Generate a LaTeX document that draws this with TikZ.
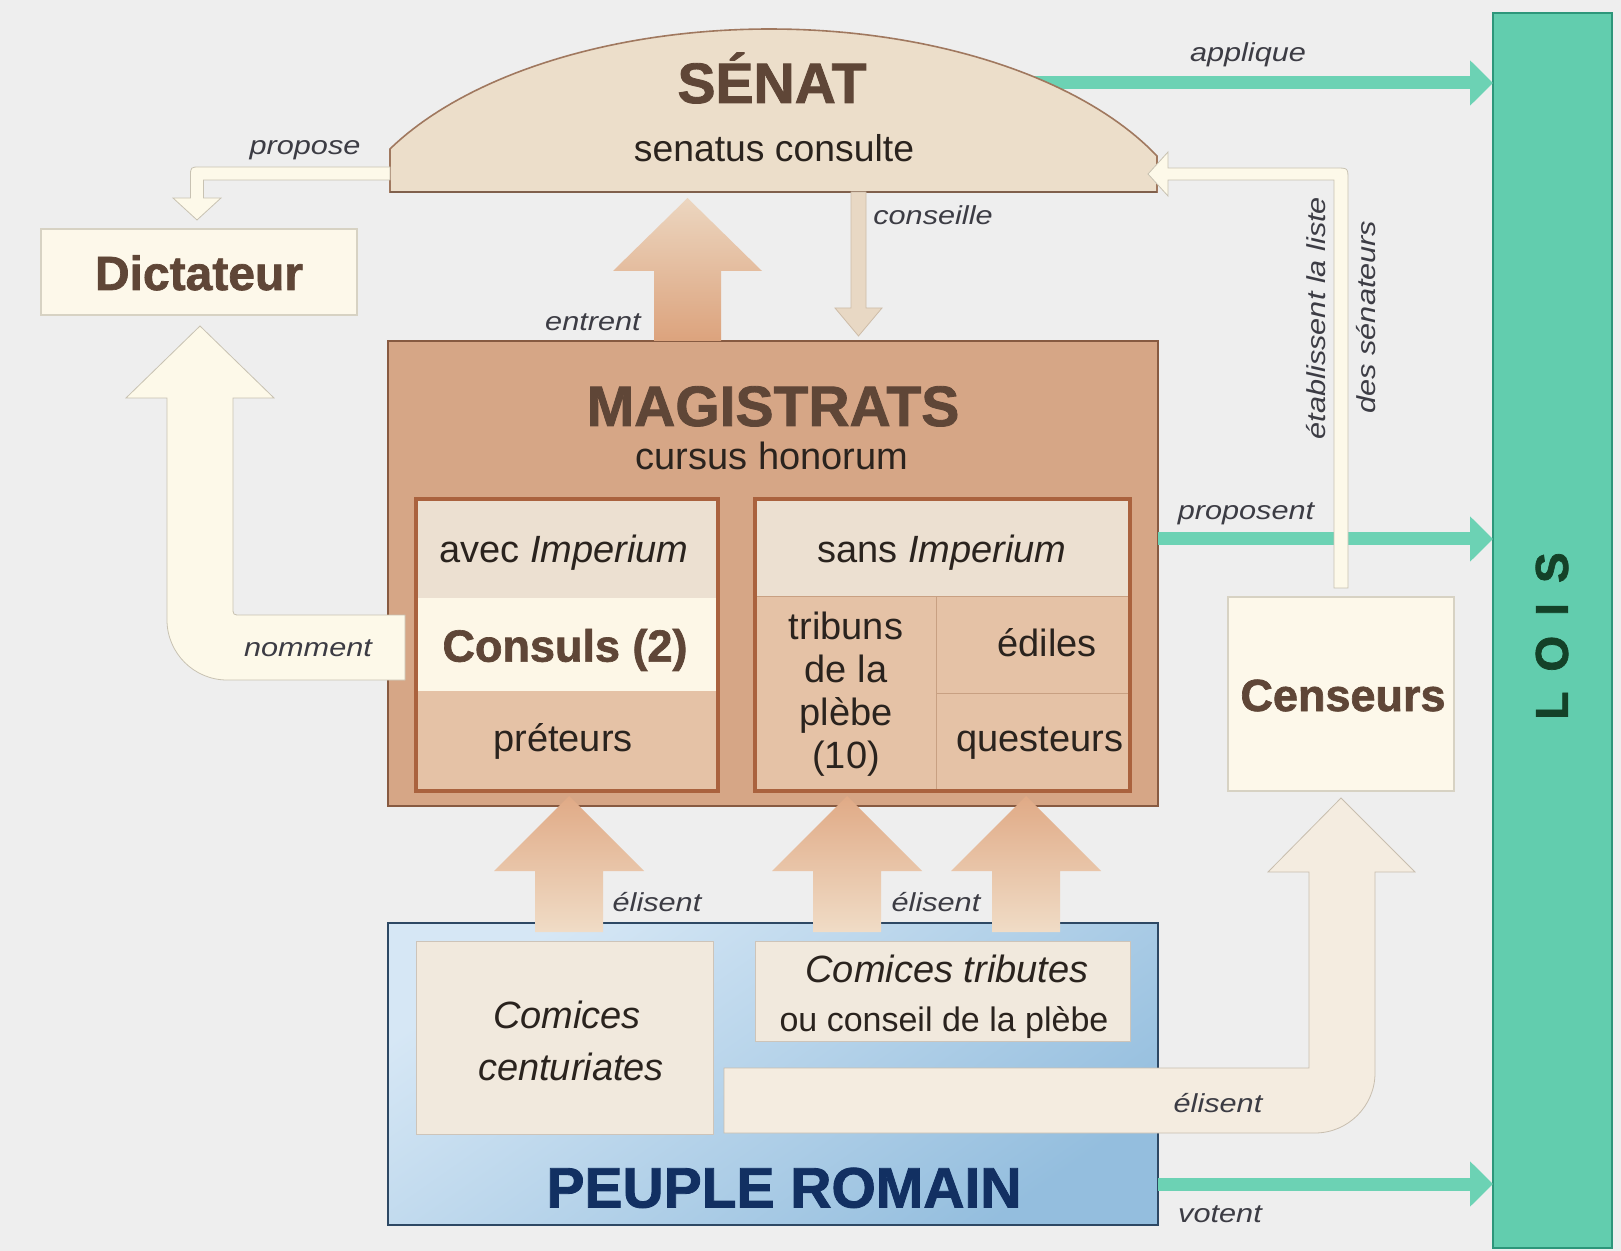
\documentclass[tikz,border=0pt]{standalone}
\usepackage{fontspec}
\setmainfont{Liberation Sans}
\newfontfamily\heavy[FakeBold=1.5]{Liberation Sans Bold}
\newfontfamily\lblfont[FakeStretch=1.18]{Liberation Sans Italic}
\usetikzlibrary{arrows.meta,fit}
\definecolor{bgc}{RGB}{238,238,238}
\definecolor{loisc}{RGB}{98,205,174}
\definecolor{loisb}{RGB}{45,150,122}
\definecolor{loist}{RGB}{20,65,40}
\definecolor{tealc}{RGB}{108,210,180}
\definecolor{senatc}{RGB}{236,222,202}
\definecolor{senatb}{RGB}{160,120,95}
\definecolor{creamc}{RGB}{253,249,233}
\definecolor{creamb}{RGB}{200,194,178}
\definecolor{dictc}{RGB}{253,248,234}
\definecolor{dictb}{RGB}{215,210,195}
\definecolor{magc}{RGB}{214,166,134}
\definecolor{magb}{RGB}{135,90,65}
\definecolor{innerb}{RGB}{170,98,62}
\definecolor{rowlight}{RGB}{236,224,209}
\definecolor{rowcons}{RGB}{253,247,231}
\definecolor{rowtan}{RGB}{229,194,166}
\definecolor{divc}{RGB}{200,160,130}
\definecolor{titlec}{RGB}{95,70,55}
\definecolor{txtc}{RGB}{42,35,30}
\definecolor{lblc}{RGB}{60,60,68}
\definecolor{peuplelt}{RGB}{214,231,245}
\definecolor{peupledk}{RGB}{148,190,222}
\definecolor{peupleb}{RGB}{45,72,100}
\definecolor{peuplet}{RGB}{18,48,98}
\definecolor{comc}{RGB}{241,233,221}
\definecolor{comb}{RGB}{205,196,185}
\definecolor{elisc}{RGB}{244,236,224}
\definecolor{elisb}{RGB}{200,190,175}
\definecolor{salmdk}{RGB}{224,170,134}
\definecolor{salmlt}{RGB}{240,220,198}
\definecolor{entlt}{RGB}{236,214,192}
\definecolor{entdk}{RGB}{220,163,125}
\definecolor{consc}{RGB}{232,216,196}
\definecolor{consb}{RGB}{205,188,168}
\begin{document}
\begin{tikzpicture}[x=0.75pt,y=-0.75pt,
  every node/.style={inner sep=0pt,outer sep=0pt},
  lbl/.style={font=\lblfont\fontsize{19.5}{22}\selectfont, text=lblc},
  cell/.style={font=\fontsize{28.5}{32.25}\selectfont, text=txtc, align=center},
  ttl/.style={font=\heavy\fontsize{42.75}{44}\selectfont, text=titlec},
  bnode/.style={font=\heavy\fontsize{33.75}{36}\selectfont, text=titlec},
  tealarr/.style={draw=tealc, line width=9.75pt, -{Triangle[length=17.25pt,width=33pt]}},
  cream/.style={fill=creamc, draw=creamb, line width=0.6pt}
]
\useasboundingbox (0,0) rectangle (1621,1251);
\fill[bgc] (0,0) rectangle (1621,1251);

% LOIS
\node[fit={(1493,13) (1612,1248)}, fill=loisc, draw=loisb, line width=1.5pt] (lois) {};
\node[rotate=90, font=\heavy\fontsize{34.5}{36}\selectfont, text=loist] (loistxt) at (1552,636) {L\kern15pt O\kern15pt I\kern15pt S};

% applique arrow (behind the dome)
\coordinate (appS) at (1000,83);
\draw[tealarr] (appS) -- (lois.west |- appS);

% SENAT dome
\filldraw[fill=senatc, draw=senatb, line width=1.2pt] (390,192) -- plot[domain=208.88:333.08, samples=90] ({770+434*cos(\x)},{261+232*sin(\x)}) -- (1157,192) -- cycle;
\draw[senatb!80!black, line width=2pt] (390,192) -- (1157,192);
\coordinate (senatS) at (773,192);
\node[ttl, anchor=base] (senat) at (772,103) {SÉNAT};
\node[font=\fontsize{28}{30}\selectfont, text=txtc, anchor=base] (senatsub) at (774,162) {senatus consulte};

% propose arrow
\filldraw[cream] (390,167) -- (200,167) .. controls (190.5,167) .. (190.5,177) -- (190.5,198) -- (173,198) -- (197,220) -- (221,198) -- (203.5,198) -- (203.5,180) -- (390,180) -- cycle;

% Dictateur
\node[fit={(41,229) (357,315)}, fill=dictc, draw=dictb, line width=0.8pt] (dict) {};
\node[bnode, font=\heavy\fontsize{36}{38}\selectfont, anchor=base] (dicttxt) at (199,290) {Dictateur};

% MAGISTRATS
\node[fit={(388,341) (1158,806)}, fill=magc, draw=magb, line width=1.9pt] (mag) {};
\node[ttl, anchor=base] (magtitle) at (773,426) {MAGISTRATS};
\node[cell, anchor=base] (cursus) at (772,470) {cursus honorum};

\node[fit={(416,499) (718,598)}, fill=rowlight] (avecrow) {};
\node[fit={(416,598) (718,691)}, fill=rowcons] (consrow) {};
\node[fit={(416,691) (718,791)}, fill=rowtan] (pretrow) {};
\node[fit={(416,499) (718,791)}, draw=innerb, line width=2.3pt] (avec) {};

\node[fit={(755,499) (1130,596)}, fill=rowlight] (sansrow) {};
\node[fit={(755,596) (936,791)}, fill=rowtan, draw=divc, line width=0.6pt] (tribrow) {};
\node[fit={(936,596) (1130,693)}, fill=rowtan, draw=divc, line width=0.6pt] (edirow) {};
\node[fit={(936,693) (1130,791)}, fill=rowtan, draw=divc, line width=0.6pt] (querow) {};
\node[fit={(755,499) (1130,791)}, draw=innerb, line width=2.3pt] (sans) {};

\node[cell, anchor=base] (avectxt) at (564,563) {avec \textit{Imperium}};
\node[bnode, anchor=base] (constxt) at (565,661.6) {Consuls (2)};
\node[cell, anchor=base] (prettxt) at (563,751.5) {préteurs};
\node[cell, anchor=base] (sanstxt) at (942,563) {sans \textit{Imperium}};
\node[cell, anchor=base] (tribtxt) at (846,768) {tribuns\\de la\\plèbe\\(10)};
\node[cell, anchor=base] (edtxt) at (1047,656.5) {édiles};
\node[cell, anchor=base] (qutxt) at (1040,751.5) {questeurs};

% teal arrows
\coordinate (propY) at (0,539);
\coordinate (votY) at (0,1184);
\draw[tealarr] (mag.east |- propY) -- (lois.west |- propY);

% entrent arrow
\shade[top color=entlt, bottom color=entdk] (654,341) -- (654,271) -- (613,271) -- (687.5,198) -- (762,271) -- (721,271) -- (721,341) -- cycle;

% conseille arrow
\filldraw[fill=consc, draw=consb, line width=0.6pt] (851,192) -- (851,308) -- (835,308) -- (858.5,336) -- (882,308) -- (866,308) -- (866,192) -- cycle;

% nomment arrow
\filldraw[cream] (405,615) -- (241,615) .. controls (233,615) .. (233,607) -- (233,398) -- (274,398) -- (200,326) -- (126,398) -- (167,398) -- (167,620) .. controls (167,653) and (194,680) .. (227,680) -- (405,680) -- cycle;

% PEUPLE ROMAIN
\node[fit={(388,923) (1158,1225)}, top color=peuplelt, bottom color=peupledk, shading angle=35, draw=peupleb, line width=1.9pt] (peuple) {};
\node[ttl, text=peuplet, anchor=base] (peupletxt) at (784,1207.5) {PEUPLE ROMAIN};
\node[fit={(416,941) (713,1134)}, fill=comc, draw=comb, line width=0.6pt] (comcent) {};
\node[cell, anchor=base] (comcent1) at (567,1028.6) {\textit{Comices}};
\node[cell, anchor=base] (comcent2) at (571,1080) {\textit{centuriates}};
\node[fit={(755,941) (1130,1041)}, fill=comc, draw=comb, line width=0.6pt] (comtrib) {};
\node[cell, anchor=base] (comtrib1) at (947,982) {\textit{Comices tributes}};
\node[anchor=base, font=\fontsize{25.5}{28}\selectfont, text=txtc] (comtrib2) at (944,1031.7) {ou conseil de la plèbe};

\draw[tealarr] (peuple.east |- votY) -- (lois.west |- votY);

% elisent arrows to magistrats
\foreach \cx in {569,847,1026} {
  \shade[top color=salmdk, bottom color=salmlt] ({\cx-34},932) -- ({\cx-34},871) -- ({\cx-75},871) -- (\cx,796) -- ({\cx+75},871) -- ({\cx+34},871) -- ({\cx+34},932) -- cycle;
}

% Censeurs
\node[fit={(1228,597) (1454,791)}, fill=dictc, draw=dictb, line width=0.8pt] (cens) {};
\node[bnode, anchor=base] (censtxt) at (1343,711) {Censeurs};

% elisent arrow to censeurs
\filldraw[fill=elisc, draw=elisb, line width=0.6pt] (724,1068) -- (1309,1068) -- (1309,872) -- (1268,872) -- (1341,798) -- (1415,872) -- (1375,872) -- (1375,1073) .. controls (1375,1106) and (1348,1133) .. (1315,1133) -- (724,1133) -- cycle;

% etablissent arrow
\filldraw[cream] (1334,588) -- (1334,180) -- (1168,180) -- (1168,196) -- (1148,174) -- (1168,152) -- (1168,168) -- (1336,168) .. controls (1348,168) .. (1348,180) -- (1348,588) -- cycle;

% labels
\node[lbl, anchor=base] (lpropose) at (305,155) {propose};
\node[lbl, anchor=base] (lentrent) at (593,331) {entrent};
\node[lbl, anchor=base] (lconseille) at (933,225) {conseille};
\node[lbl, anchor=base] (lapplique) at (1248,62) {applique};
\node[lbl, anchor=base] (lproposent) at (1246,520) {proposent};
\node[lbl, anchor=base] (lvotent) at (1220,1222) {votent};
\node[lbl, anchor=base] (lnomment) at (308,656) {nomment};
\node[lbl, anchor=base] (lelis1) at (657,911) {élisent};
\node[lbl, anchor=base] (lelis2) at (936,911) {élisent};
\node[lbl, anchor=base] (lelis3) at (1218,1112) {élisent};
\node[lbl, rotate=90] (letab) at (1316,318) {établissent la liste};
\node[lbl, rotate=90] (ldes) at (1366,317) {des sénateurs};
\end{tikzpicture}
\end{document}
